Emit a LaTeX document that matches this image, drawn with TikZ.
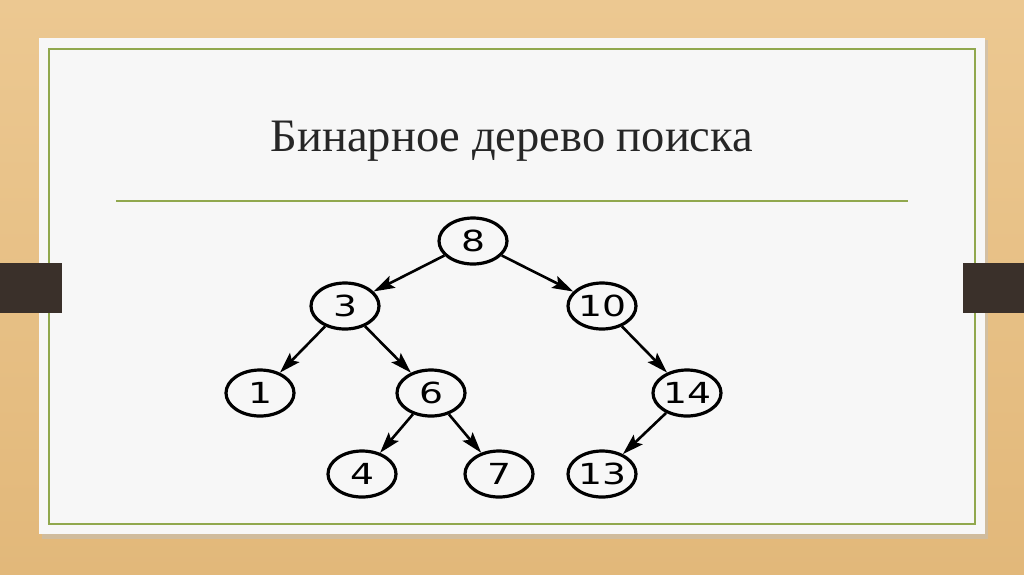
\documentclass[tikz,border=0pt]{standalone}
\usepackage{fontspec}
\setmainfont{Liberation Serif}
\newfontfamily\digitfont[FakeStretch=1.3]{DejaVu Sans}
\usetikzlibrary{arrows.meta,shapes.geometric}
\definecolor{wood}{RGB}{226,184,122}
\definecolor{woodlight}{RGB}{236,200,145}
\definecolor{panel}{RGB}{247,247,247}
\definecolor{olive}{RGB}{145,168,78}
\definecolor{bar}{RGB}{58,48,42}
\definecolor{titlegray}{RGB}{38,38,38}
\tikzset{
  tnode/.style={ellipse,draw=black,line width=3.2pt,fill=panel,minimum width=68pt,minimum height=46pt,inner sep=0pt,font=\digitfont\fontsize{29}{29}\selectfont},
  edge/.style={line width=2.6pt,-{Stealth[length=21pt,width=13pt,inset=4pt]}}
}
\begin{document}
\begin{tikzpicture}[x=1pt,y=-1pt]
\useasboundingbox (0,0) rectangle (1024,574);
\shade[top color=woodlight,bottom color=wood] (0,0) rectangle (1024,574);
% panel shadow
\fill[black!25,opacity=0.5] (42,40) rectangle (988,539);
\fill[panel] (39,38) rectangle (985,534);
\draw[olive,line width=1.4pt] (49,49) rectangle (975,524);
% bars
\fill[bar] (0,263) rectangle (62,313);
\fill[bar] (963,263) rectangle (1024,313);
% title
\node[font=\fontsize{46.5}{50}\selectfont,text=titlegray,anchor=base] (title) at (512,151) {Бинарное дерево поиска};
\draw[olive,line width=1.4pt] (116,201) -- (908,201);
% tree
\node[tnode] (n8) at (473,241) {8};
\node[tnode] (n3) at (345,306) {3};
\node[tnode] (n10) at (602,306) {10};
\node[tnode] (n1) at (260,393) {1};
\node[tnode] (n6) at (431,393) {6};
\node[tnode] (n14) at (687,393) {14};
\node[tnode] (n4) at (362,474) {4};
\node[tnode] (n7) at (499,474) {7};
\node[tnode] (n13) at (602,474) {13};
\draw[edge] (n8) -- (n3);
\draw[edge] (n8) -- (n10);
\draw[edge] (n3) -- (n1);
\draw[edge] (n3) -- (n6);
\draw[edge] (n10) -- (n14);
\draw[edge] (n6) -- (n4);
\draw[edge] (n6) -- (n7);
\draw[edge] (n14) -- (n13);
\end{tikzpicture}
\end{document}
